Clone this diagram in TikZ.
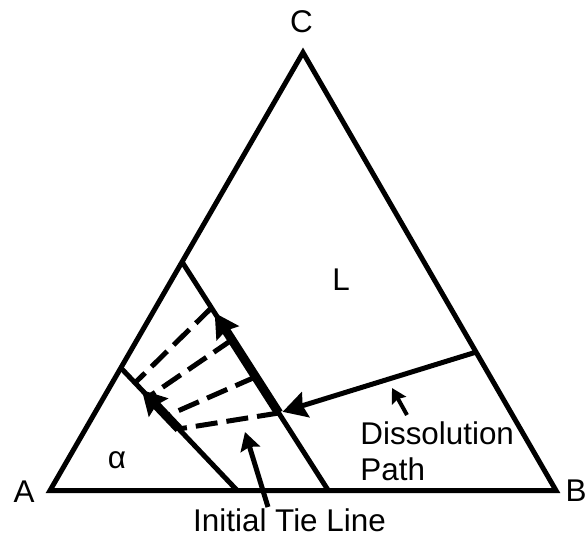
\documentclass[tikz,border=0pt]{standalone}
\usepackage{fontspec}
\setmainfont{Liberation Sans}
\usetikzlibrary{arrows.meta,calc}

\begin{document}
\begin{tikzpicture}[x=0.5pt, y=-0.5pt,
  edge/.style={line width=2.5pt, line join=miter},
  tie/.style={line width=2.5pt},
  growth/.style={line width=4.5pt, -{Stealth[length=12pt, width=13pt, inset=1.5pt]}},
  dissolve/.style={line width=2.5pt, shorten >=2pt,
                   -{Stealth[length=12pt, width=13pt, inset=1.5pt]}},
  interim/.style={line width=2.5pt, dash pattern=on 11pt off 4.5pt},
  pointer/.style={-{Stealth[length=0pt 3.6, width=0pt 4, inset=0pt 0.5]}},
  lbl/.style={font=\fontsize{15.7}{18.15}\selectfont, inner sep=0pt},
]
  \useasboundingbox (0,0) rectangle (587,537);

  % corners of the triangle
  \coordinate (A) at (50,490.5);
  \coordinate (B) at (556,490.5);
  \coordinate (C) at (303,52.5);
  \draw[edge] (A) -- (B) -- (C) -- cycle;

  % tie lines
  \coordinate (p1) at ($(A)!0.28!(C)$);
  \coordinate (q1) at ($(A)!0.37!(B)$);
  \coordinate (p2) at ($(A)!0.522!(C)$);
  \coordinate (q2) at ($(A)!0.55!(B)$);
  \coordinate (r)  at ($(B)!0.316!(C)$);
  \draw[tie] (p1) -- (q1);
  \draw[tie] (p2) -- (q2);

  % intermediate tie lines
  \foreach \s/\t in {0.201/0.122, 0.341/0.237, 0.503/0.392, 0.661/0.498}
    \draw[interim] ($(p2)!\s!(q2)$) -- ($(p1)!\t!(q1)$);

  \coordinate (m4) at ($(p2)!0.661!(q2)$);
  \coordinate (n4) at ($(p1)!0.498!(q1)$);
  \draw[growth] (m4) -- ($(p2)!0.223!(q2)$);
  \draw[growth] (n4) -- ($(p1)!0.18!(q1)$);
  \draw[dissolve] (r) -- (m4);

  % labels
  \node[lbl] (lc) at (301.5,22) {C};
  \node[lbl] (la) at (24,492) {A};
  \node[lbl] (lb) at (576,491) {B};
  \node[lbl] (ll) at (341,280) {L};
  \node[lbl] (lalpha) at (117,460) {α};
  \node[lbl, anchor=north west, align=left] (ldp) at (360,421.5) {Dissolution\\Path};
  \node[lbl, anchor=base] (litl) at (289.5,531.7) {Initial Tie Line};

  \coordinate (dptail) at (407,415);
  \coordinate (dptip) at (392,388);
  \coordinate (itltail) at (268,507);
  \coordinate (itltip) at (245,432);
  \draw[pointer, line width=2pt] (dptail) -- (dptip);
  \draw[pointer, line width=2.5pt] (itltail) -- (itltip);
\end{tikzpicture}
\end{document}
